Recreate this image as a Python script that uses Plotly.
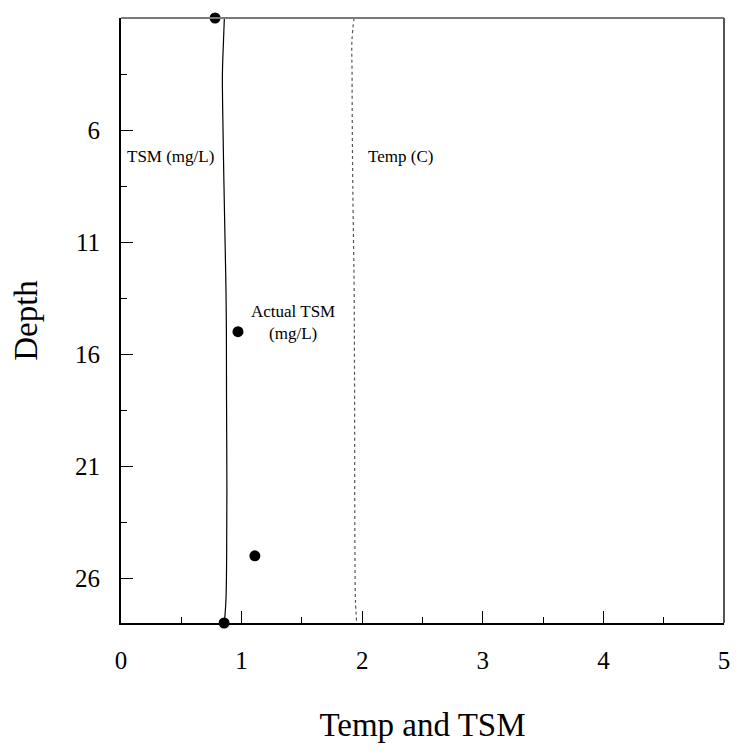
import plotly.graph_objects as go

# modelled profiles
model_depth = [1, 2, 3.5, 6, 8.5, 11, 13, 15, 18, 22, 25, 27, 28]
tsm_model = [0.857, 0.850, 0.841, 0.846, 0.854, 0.863, 0.870, 0.874, 0.875, 0.878, 0.876, 0.870, 0.857]
temp_model = [1.933, 1.915, 1.916, 1.918, 1.922, 1.928, 1.933, 1.935, 1.937, 1.938, 1.940, 1.944, 1.954]

# measured TSM
actual_depth = [1, 15, 25, 28]
actual_tsm = [0.78, 0.97, 1.11, 0.855]

x_ticks = [0, 1, 2, 3, 4, 5]
y_ticks = [1, 6, 11, 16, 21, 26]

serif = "Liberation Serif, Times New Roman, serif"

fig = go.Figure()

fig.add_trace(go.Scatter(
    x=tsm_model, y=model_depth, mode="lines",
    line=dict(color="black", width=1.2, shape="spline"),
    name="TSM (mg/L)", cliponaxis=False
))
fig.add_trace(go.Scatter(
    x=temp_model, y=model_depth, mode="lines",
    line=dict(color="#555555", width=1.2, dash="dot", shape="spline"),
    name="Temp (C)", cliponaxis=False
))
fig.add_trace(go.Scatter(
    x=actual_tsm, y=actual_depth, mode="markers",
    marker=dict(color="black", size=11),
    name="Actual TSM (mg/L)", cliponaxis=False
))

fig.add_annotation(x=0.41, y=7.2, text="TSM (mg/L)", showarrow=False,
                   font=dict(family=serif, size=17, color="black"))
fig.add_annotation(x=2.32, y=7.2, text="Temp (C)", showarrow=False,
                   font=dict(family=serif, size=17, color="black"))
fig.add_annotation(x=1.43, y=14.6, text="Actual TSM<br>(mg/L)", showarrow=False,
                   font=dict(family=serif, size=17, color="black"))

# top and right frame lines (grey)
fig.add_shape(type="line", xref="paper", yref="paper", x0=0, x1=1, y0=1, y1=1,
              line=dict(color="#7a7a7a", width=2))
fig.add_shape(type="line", xref="paper", yref="paper", x0=1, x1=1, y0=0, y1=1,
              line=dict(color="#555555", width=2))

fig.update_xaxes(
    range=[0, 5], tickvals=x_ticks, ticks="inside", ticklen=12, tickwidth=1.2,
    tickcolor="black", showline=True, linecolor="black", linewidth=2,
    showgrid=False, zeroline=False,
    minor=dict(dtick=0.5, tick0=0, ticks="inside", ticklen=6, tickcolor="black", tickwidth=1),
    tickfont=dict(family=serif, size=25, color="black"), ticklabelstandoff=14,
    title=dict(text="Temp and TSM", font=dict(family=serif, size=33, color="black"), standoff=40)
)
fig.update_yaxes(
    range=[28, 1], tickvals=y_ticks, ticks="inside", ticklen=12, tickwidth=1.2,
    tickcolor="black", showline=True, linecolor="black", linewidth=2,
    showgrid=False, zeroline=False,
    minor=dict(dtick=2.5, tick0=1, ticks="inside", ticklen=6, tickcolor="black", tickwidth=1),
    tickfont=dict(family=serif, size=25, color="black"), ticklabelstandoff=14,
    title=dict(text="Depth", font=dict(family=serif, size=33, color="black"), standoff=27)
)

fig.update_layout(
    width=731, height=738,
    margin=dict(l=113, r=9, t=10, b=118),
    plot_bgcolor="white", paper_bgcolor="white",
    showlegend=False
)

fig.write_html("out.html")
